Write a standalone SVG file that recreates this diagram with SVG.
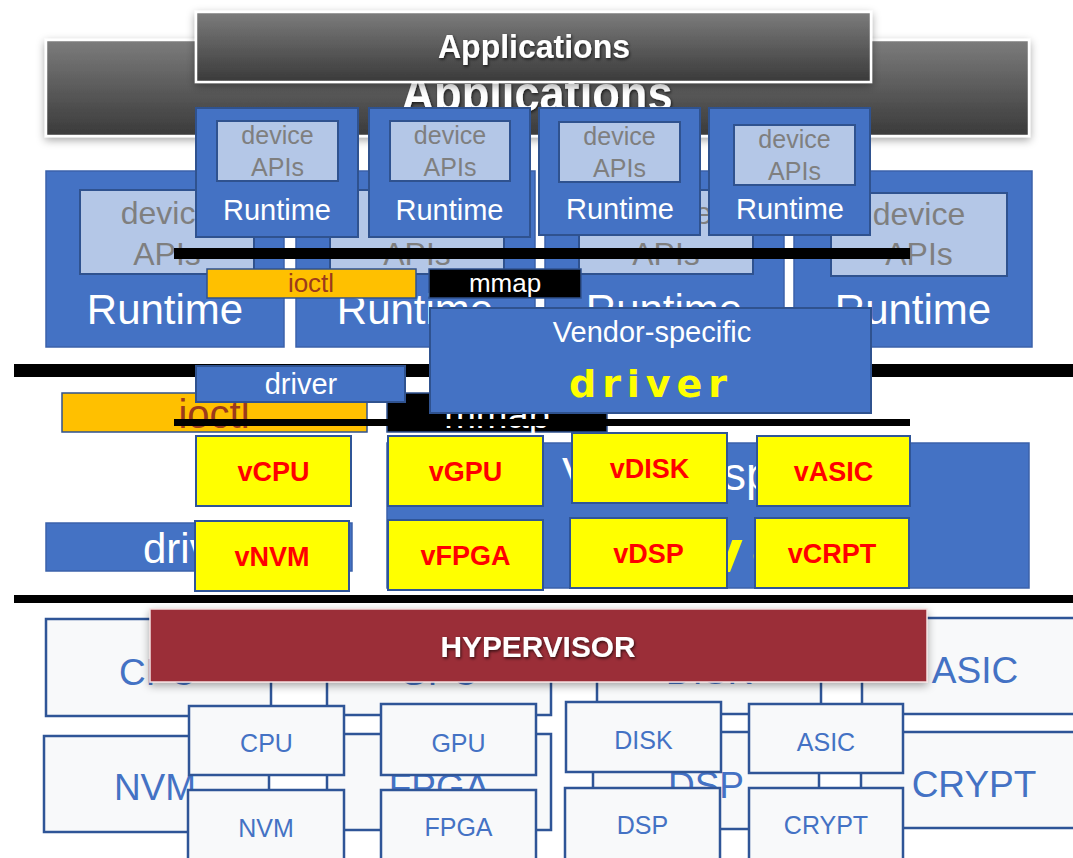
<svg xmlns="http://www.w3.org/2000/svg" width="1073" height="858" viewBox="0 0 1073 858">
<defs>
<linearGradient id="gApp" x1="0" y1="0" x2="0" y2="1">
<stop offset="0" stop-color="#7c7c7c"/><stop offset="1" stop-color="#3a3a3a"/>
</linearGradient>
<filter id="shadow" x="-5%" y="-30%" width="110%" height="170%">
<feDropShadow dx="0" dy="3" stdDeviation="4" flood-color="#000" flood-opacity="0.35"/>
</filter>
<filter id="tshadow" x="-10%" y="-30%" width="120%" height="170%">
<feDropShadow dx="1" dy="1.5" stdDeviation="1.5" flood-color="#000" flood-opacity="0.7"/>
</filter>
</defs>
<style>
text { font-family: "Liberation Sans", Arial, sans-serif; }
.app { fill: url(#gApp); stroke: #ffffff; stroke-width: 2.5; filter: url(#shadow); }
.appt { fill: #ffffff; font-weight: bold; text-anchor: middle; filter: url(#tshadow); }
.rt { fill: #4472C4; stroke: #2F528F; stroke-width: 2; }
.rtb { fill: #4472C4; stroke: #3B62AA; stroke-width: 1.5; }
.api { fill: #B4C7E7; stroke: #2F528F; stroke-width: 2; }
.gt { fill: #7F7F7F; text-anchor: middle; }
.wt { fill: #ffffff; text-anchor: middle; }
.orange { fill: #FFC000; stroke: #2F528F; stroke-width: 1.5; }
.ioctlt { fill: #9C3B1C; text-anchor: middle; }
.blk { fill: #000000; stroke: #2F528F; stroke-width: 1.5; }
.bar { fill: #000000; }
.yel { fill: #FFFF00; font-family: "DejaVu Sans", sans-serif; font-weight: bold; }
.vbox { fill: #FFFF00; stroke: #2F5597; stroke-width: 2; }
.vt { fill: #FF0000; font-weight: bold; font-size: 27px; text-anchor: middle; }
.hw { fill: #F8F9FA; stroke: #2F5597; stroke-width: 2.5; }
.hwt { fill: #4472C4; text-anchor: middle; }
.hyp { fill: #9B2D38; stroke: #F4E1E1; stroke-width: 1.5; filter: url(#shadow); }
</style>

<!-- background (enlarged) layer -->
<g id="bg-applications">
<rect class="app" x="46" y="40" width="983" height="96"/>
<text class="appt" x="537" y="111" font-size="50" textLength="271" lengthAdjust="spacingAndGlyphs">Applications</text>
</g>
<g id="bg-runtime-1">
<rect class="rtb" x="46" y="171" width="238" height="176"/>
<rect class="api" x="80" y="190" width="174" height="84"/>
<text class="gt" x="167" y="224" font-size="32">device</text>
<text class="gt" x="167" y="265" font-size="32">APIs</text>
<text class="wt" x="165" y="324" font-size="42">Runtime</text>
</g>
<g id="bg-runtime-2">
<rect class="rtb" x="296" y="171" width="239" height="176"/>
<rect class="api" x="330" y="190" width="174" height="84"/>
<text class="gt" x="417" y="224" font-size="32">device</text>
<text class="gt" x="417" y="265" font-size="32">APIs</text>
<text class="wt" x="415" y="324" font-size="42">Runtime</text>
</g>
<g id="bg-runtime-3">
<rect class="rtb" x="545" y="171" width="239" height="176"/>
<rect class="api" x="579" y="190" width="174" height="84"/>
<text class="gt" x="666" y="224" font-size="32">device</text>
<text class="gt" x="666" y="265" font-size="32">APIs</text>
<text class="wt" x="664" y="324" font-size="42">Runtime</text>
</g>
<g id="bg-runtime-4">
<rect class="rtb" x="794" y="171" width="238" height="176"/>
<rect class="api" x="831" y="193" width="176" height="83"/>
<text class="gt" x="919" y="225" font-size="32">device</text>
<text class="gt" x="919" y="265" font-size="32">APIs</text>
<text class="wt" x="913" y="324" font-size="42">Runtime</text>
</g>
<g id="bg-ioctl">
<rect class="orange" x="62" y="393" width="305" height="39"/>
<text class="ioctlt" x="214" y="428" font-size="40">ioctl</text>
</g>
<g id="bg-mmap">
<rect class="blk" x="387" y="393" width="220" height="39"/>
<text class="wt" x="497" y="428" font-size="38">mmap</text>
</g>
<g id="bg-driver">
<rect class="rtb" x="46" y="523" width="306" height="48"/>
<text fill="#ffffff" x="143" y="563" font-size="42">driver</text>
</g>
<g id="bg-vendor-driver">
<rect class="rtb" x="387" y="443" width="642" height="145"/>
<text fill="#ffffff" x="562" y="490" font-size="46">Vendor-specific</text>
<text class="yel" x="592" y="572" font-size="58" textLength="235" lengthAdjust="spacing">driver</text>
</g>
<g id="bg-cpu"><rect class="hw" x="46" y="619" width="225" height="97"/><text class="hwt" x="158" y="685" font-size="37">CPU</text></g>
<g id="bg-gpu"><rect class="hw" x="327" y="619" width="224" height="96"/><text class="hwt" x="439" y="685" font-size="37">GPU</text></g>
<g id="bg-disk"><rect class="hw" x="597" y="619" width="224" height="95"/><text class="hwt" x="709" y="684" font-size="37">DISK</text></g>
<g id="bg-asic"><rect class="hw" x="862" y="618" width="226" height="96"/><text class="hwt" x="975" y="683" font-size="37">ASIC</text></g>
<g id="bg-nvm"><rect class="hw" x="44" y="736" width="225" height="96"/><text class="hwt" x="155" y="800" font-size="37">NVM</text></g>
<g id="bg-fpga"><rect class="hw" x="327" y="734" width="224" height="96"/><text class="hwt" x="439" y="800" font-size="37">FPGA</text></g>
<g id="bg-dsp"><rect class="hw" x="593" y="732" width="226" height="97"/><text class="hwt" x="706" y="798" font-size="37">DSP</text></g>
<g id="bg-crypt"><rect class="hw" x="861" y="732" width="226" height="96"/><text class="hwt" x="974" y="797" font-size="37">CRYPT</text></g>

<!-- divider bars -->
<g id="connectors">
<rect class="bar" x="14" y="364" width="1059" height="13"/>
<rect class="bar" x="14" y="595" width="1059" height="8"/>
<rect class="bar" x="174" y="248" width="736" height="11"/>
<rect class="bar" x="174" y="419" width="736" height="7"/>
</g>

<!-- foreground layer -->
<g id="applications">
<rect class="app" x="196" y="12" width="675" height="70"/>
<text class="appt" x="534" y="58" font-size="34" textLength="192" lengthAdjust="spacingAndGlyphs">Applications</text>
</g>
<g id="runtime-1">
<rect class="rt" x="196" y="108" width="162" height="129"/>
<rect class="api" x="217" y="121" width="121" height="60"/>
<text class="gt" x="277.5" y="144" font-size="25">device</text>
<text class="gt" x="277.5" y="176" font-size="25">APIs</text>
<text class="wt" x="277" y="220" font-size="29">Runtime</text>
</g>
<g id="runtime-2">
<rect class="rt" x="369" y="108" width="161" height="129"/>
<rect class="api" x="390" y="121" width="120" height="60"/>
<text class="gt" x="450" y="144" font-size="25">device</text>
<text class="gt" x="450" y="176" font-size="25">APIs</text>
<text class="wt" x="449.5" y="220" font-size="29">Runtime</text>
</g>
<g id="runtime-3">
<rect class="rt" x="539" y="108" width="161" height="127"/>
<rect class="api" x="559" y="122" width="121" height="60"/>
<text class="gt" x="619.5" y="145" font-size="25">device</text>
<text class="gt" x="619.5" y="177" font-size="25">APIs</text>
<text class="wt" x="620" y="219" font-size="29">Runtime</text>
</g>
<g id="runtime-4">
<rect class="rt" x="709" y="108" width="161" height="127"/>
<rect class="api" x="734" y="125" width="121" height="60"/>
<text class="gt" x="794.5" y="148" font-size="25">device</text>
<text class="gt" x="794.5" y="180" font-size="25">APIs</text>
<text class="wt" x="790" y="219" font-size="29">Runtime</text>
</g>
<g id="ioctl">
<rect class="orange" x="207" y="269" width="209" height="29"/>
<text class="ioctlt" x="311" y="292" font-size="26">ioctl</text>
</g>
<g id="mmap">
<rect class="blk" x="429" y="269" width="152" height="29"/>
<text class="wt" x="505" y="292" font-size="26">mmap</text>
</g>
<g id="driver">
<rect class="rt" x="196" y="366" width="209" height="36"/>
<text class="wt" x="301" y="394" font-size="29">driver</text>
</g>
<g id="vendor-driver">
<rect class="rt" x="430" y="308" width="441" height="105"/>
<text class="wt" x="652" y="342" font-size="29">Vendor-specific</text>
<text class="yel" x="569" y="397" font-size="38" textLength="158" lengthAdjust="spacing">driver</text>
</g>

<g id="vCPU"><rect class="vbox" x="196" y="436" width="155" height="70"/><text class="vt" x="273.5" y="481">vCPU</text></g>
<g id="vGPU"><rect class="vbox" x="388" y="436" width="155" height="70"/><text class="vt" x="465.5" y="481">vGPU</text></g>
<g id="vDISK"><rect class="vbox" x="572" y="433" width="155" height="70"/><text class="vt" x="649.5" y="478">vDISK</text></g>
<g id="vASIC"><rect class="vbox" x="757" y="436" width="153" height="70"/><text class="vt" x="833.5" y="481">vASIC</text></g>
<g id="vNVM"><rect class="vbox" x="195" y="521" width="154" height="70"/><text class="vt" x="272" y="566">vNVM</text></g>
<g id="vFPGA"><rect class="vbox" x="388" y="520" width="155" height="70"/><text class="vt" x="465.5" y="565">vFPGA</text></g>
<g id="vDSP"><rect class="vbox" x="570" y="518" width="157" height="70"/><text class="vt" x="648.5" y="563">vDSP</text></g>
<g id="vCRPT"><rect class="vbox" x="755" y="518" width="154" height="70"/><text class="vt" x="832" y="563">vCRPT</text></g>

<g id="hypervisor">
<rect class="hyp" x="150" y="609" width="777" height="73"/>
<text class="appt" x="538" y="657" font-size="30" textLength="195" lengthAdjust="spacingAndGlyphs">HYPERVISOR</text>
</g>

<g id="cpu"><rect class="hw" x="189" y="706" width="155" height="69"/><text class="hwt" x="266.5" y="752" font-size="25">CPU</text></g>
<g id="gpu"><rect class="hw" x="381" y="704" width="155" height="71"/><text class="hwt" x="458.5" y="752" font-size="25">GPU</text></g>
<g id="disk"><rect class="hw" x="566" y="702" width="155" height="70"/><text class="hwt" x="643.5" y="749" font-size="25">DISK</text></g>
<g id="asic"><rect class="hw" x="749" y="704" width="154" height="69"/><text class="hwt" x="826" y="751" font-size="25">ASIC</text></g>
<g id="nvm"><rect class="hw" x="188" y="790" width="156" height="75"/><text class="hwt" x="266" y="837" font-size="25">NVM</text></g>
<g id="fpga"><rect class="hw" x="381" y="790" width="155" height="75"/><text class="hwt" x="458.5" y="836" font-size="25">FPGA</text></g>
<g id="dsp"><rect class="hw" x="565" y="788" width="155" height="75"/><text class="hwt" x="642.5" y="834" font-size="25">DSP</text></g>
<g id="crypt"><rect class="hw" x="749" y="788" width="154" height="75"/><text class="hwt" x="826" y="834" font-size="25">CRYPT</text></g>
</svg>
